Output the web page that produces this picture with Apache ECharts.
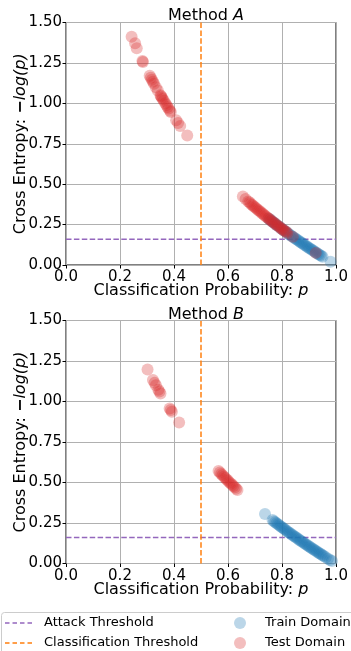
<!DOCTYPE html>
<html><head><meta charset="utf-8">
<script src="https://cdn.jsdelivr.net/npm/echarts@6/dist/echarts.min.js"></script>
<style>html,body{margin:0;padding:0;background:#fff}#c{width:351px;height:651px}</style>
</head><body><div id="c"></div>
<script>
// ---- data: [p, cross entropy] ----
const trainA = [[0.75,0.288],[0.755,0.281],[0.76,0.274],[0.765,0.268],[0.77,0.261],[0.775,0.255],[0.78,0.248],[0.785,0.242],[0.79,0.236],[0.795,0.229],[0.80,0.223],[0.805,0.217],[0.81,0.211],[0.815,0.205],[0.82,0.198],[0.825,0.192],[0.83,0.186],[0.835,0.180],[0.84,0.174],[0.845,0.168],[0.85,0.163],[0.855,0.157],[0.86,0.151],[0.865,0.145],[0.87,0.139],[0.875,0.134],[0.88,0.128],[0.885,0.122],[0.89,0.117],[0.895,0.111],[0.90,0.105],[0.905,0.100],[0.91,0.094],[0.915,0.089],[0.92,0.083],[0.925,0.078],[0.93,0.073],[0.935,0.067],[0.94,0.062],[0.945,0.057],[0.95,0.051],[0.98,0.020]];
const testA = [[0.243,1.412],[0.256,1.371],[0.262,1.340],[0.283,1.262],[0.285,1.255],[0.310,1.171],[0.314,1.158],[0.318,1.146],[0.322,1.133],[0.326,1.121],[0.333,1.100],[0.340,1.079],[0.350,1.050],[0.352,1.044],[0.355,1.036],[0.358,1.027],[0.362,1.016],[0.368,1.000],[0.372,0.989],[0.376,0.978],[0.380,0.968],[0.385,0.954],[0.388,0.947],[0.408,0.896],[0.415,0.879],[0.423,0.860],[0.449,0.801],
  [0.655,0.423],[0.665,0.408],[0.675,0.393],[0.68,0.386],[0.685,0.378],[0.69,0.371],[0.695,0.364],[0.70,0.357],[0.705,0.350],[0.71,0.342],[0.715,0.336],[0.72,0.329],[0.725,0.322],[0.73,0.315],[0.735,0.308],[0.74,0.301],[0.745,0.294],[0.75,0.288],[0.755,0.281],[0.76,0.274],[0.765,0.268],[0.77,0.261],[0.775,0.255],[0.78,0.248],[0.785,0.242],[0.79,0.236],[0.795,0.229],[0.80,0.223],[0.805,0.217],[0.81,0.211],[0.815,0.205],[0.82,0.198],[0.84,0.174],[0.925,0.075]];
const trainB = [[0.737,0.305],[0.765,0.268],[0.77,0.261],[0.775,0.255],[0.78,0.248],[0.785,0.242],[0.79,0.236],[0.795,0.229],[0.80,0.223],[0.805,0.217],[0.81,0.211],[0.815,0.205],[0.82,0.198],[0.825,0.192],[0.83,0.186],[0.835,0.180],[0.84,0.174],[0.845,0.168],[0.85,0.163],[0.855,0.157],[0.86,0.151],[0.865,0.145],[0.87,0.139],[0.875,0.134],[0.88,0.128],[0.885,0.122],[0.89,0.117],[0.895,0.111],[0.90,0.105],[0.905,0.100],[0.91,0.094],[0.915,0.089],[0.92,0.083],[0.925,0.078],[0.93,0.073],[0.935,0.067],[0.94,0.062],[0.945,0.057],[0.95,0.051],[0.955,0.046],[0.962,0.039],[0.97,0.030],[0.978,0.022],[0.985,0.015]];
const testB = [[0.302,1.197],[0.322,1.133],[0.328,1.115],[0.333,1.100],[0.342,1.073],[0.346,1.061],[0.350,1.050],[0.384,0.957],[0.388,0.947],[0.392,0.937],[0.419,0.870],
  [0.565,0.571],[0.57,0.562],[0.575,0.553],[0.58,0.545],[0.585,0.536],[0.59,0.528],[0.595,0.519],[0.60,0.511],[0.605,0.502],[0.61,0.494],[0.615,0.486],[0.62,0.478],[0.625,0.470],[0.63,0.462],[0.635,0.454]];
const attackThreshold = 0.16;
const classThreshold = 0.5;
const xTicks = [0.0,0.2,0.4,0.6,0.8,1.0];
const yTicks = [0.00,0.25,0.50,0.75,1.00,1.25,1.50];
const titles = ['Method ', 'A', 'B'];

const FONT = 'DejaVu Sans';
const chart = echarts.init(document.getElementById('c'));
const grids = [{left:66,width:270,top:22.5,height:242.5},{left:66,width:270,top:320.5,height:243}];
const nameRich = {n:{fontFamily:FONT,fontSize:16,color:'#000'},m:{fontFamily:FONT,fontSize:16,fontWeight:'bold',color:'#000'},i:{fontFamily:FONT,fontSize:16,fontStyle:'italic',color:'#000'}};
function xAx(i){return {gridIndex:i,type:'value',min:xTicks[0],max:xTicks[xTicks.length-1],interval:0.2,
  axisLine:{show:false},axisTick:{show:true,length:3.5,lineStyle:{color:'#000'}},
  axisLabel:{margin:5,color:'#000',fontFamily:FONT,fontSize:15,formatter:v=>v.toFixed(1)},
  splitLine:{show:true,lineStyle:{color:'#b0b0b0',width:1}},
  name:'{n|Classification Probability: }{i|p}',nameLocation:'middle',nameGap:18,nameMoveOverlap:false,
  nameTextStyle:{rich:nameRich}};}
function yAx(i){return {gridIndex:i,type:'value',min:yTicks[0],max:yTicks[yTicks.length-1],interval:0.25,
  axisLine:{show:false},axisTick:{show:true,length:3.5,lineStyle:{color:'#000'}},
  axisLabel:{margin:4,color:'#000',fontFamily:FONT,fontSize:15,formatter:v=>v.toFixed(2)},
  splitLine:{show:true,lineStyle:{color:'#b0b0b0',width:1}},
  name:'{n|Cross Entropy: }{m|−}{i|log(p)}',nameLocation:'middle',nameGap:37,nameMoveOverlap:false,
  nameTextStyle:{rich:nameRich}};}
const dash=[5.5,2.4];
const dashIcon='path://M0,0L4.5,0L4.5,1.5L0,1.5Z M7.5,0L12,0L12,1.5L7.5,1.5Z M15,0L19.5,0L19.5,1.5L15,1.5Z M22.5,0L27,0L27,1.5L22.5,1.5Z';
const series=[];
[0,1].forEach(i=>{
  series.push({name:'Attack Threshold',type:'line',xAxisIndex:i,yAxisIndex:i,data:[[0,attackThreshold],[1,attackThreshold]],symbol:'none',z:1,
    lineStyle:{color:'#9467bd',width:1.5,type:dash},itemStyle:{color:'#9467bd'}});
  series.push({name:'Classification Threshold',type:'line',xAxisIndex:i,yAxisIndex:i,data:[[classThreshold,0],[classThreshold,1.5]],symbol:'none',z:1,
    lineStyle:{color:'#ff7f0e',width:1.5,type:dash},itemStyle:{color:'#ff7f0e'}});
  series.push({name:'Train Domain',type:'scatter',xAxisIndex:i,yAxisIndex:i,data:i?trainB:trainA,symbolSize:12,z:2,
    itemStyle:{color:'#1f77b4',opacity:0.3}});
  series.push({name:'Test Domain',type:'scatter',xAxisIndex:i,yAxisIndex:i,data:i?testB:testA,symbolSize:12,z:3,
    itemStyle:{color:'#d62728',opacity:0.3}});
});
const titleRich={n:{fontFamily:FONT,fontSize:16,fontWeight:'normal',color:'#000'},i:{fontFamily:FONT,fontSize:16,fontWeight:'normal',fontStyle:'italic',color:'#000'}};
chart.setOption({
  animation:false,
  title:[
    {text:'{n|'+titles[0]+'}{i|'+titles[1]+'}',left:201,top:3,textAlign:'center',textStyle:{fontWeight:'normal',rich:titleRich}},
    {text:'{n|'+titles[0]+'}{i|'+titles[2]+'}',left:201,top:302,textAlign:'center',textStyle:{fontWeight:'normal',rich:titleRich}}
  ],
  grid:grids.map(g=>Object.assign({show:true,borderColor:'#000',borderWidth:1,backgroundColor:'transparent',outerBoundsMode:'none',containLabel:false},g)),
  xAxis:[xAx(0),xAx(1)],
  yAxis:[yAx(0),yAx(1)],
  graphic:[{type:'rect',left:1,top:612,shape:{width:380,height:60,r:3},style:{fill:'#fff',stroke:'#cccccc',lineWidth:1},z:-1}],
  legend:[
    {data:[{name:'Attack Threshold',icon:dashIcon},{name:'Classification Threshold',icon:dashIcon}],orient:'vertical',left:5,top:616.5,padding:0,height:40,itemWidth:27,itemHeight:1.5,itemGap:7,
      textStyle:{fontFamily:FONT,fontSize:13,lineHeight:13,color:'#000',padding:[0,0,0,7]}},
    {data:['Train Domain','Test Domain'],orient:'vertical',left:234,top:616.5,padding:0,height:40,itemWidth:28,itemHeight:12,itemGap:7,icon:'circle',
      textStyle:{fontFamily:FONT,fontSize:13,lineHeight:13,color:'#000',padding:[0,0,0,6]}}
  ],
  series:series
});
</script></body></html>
